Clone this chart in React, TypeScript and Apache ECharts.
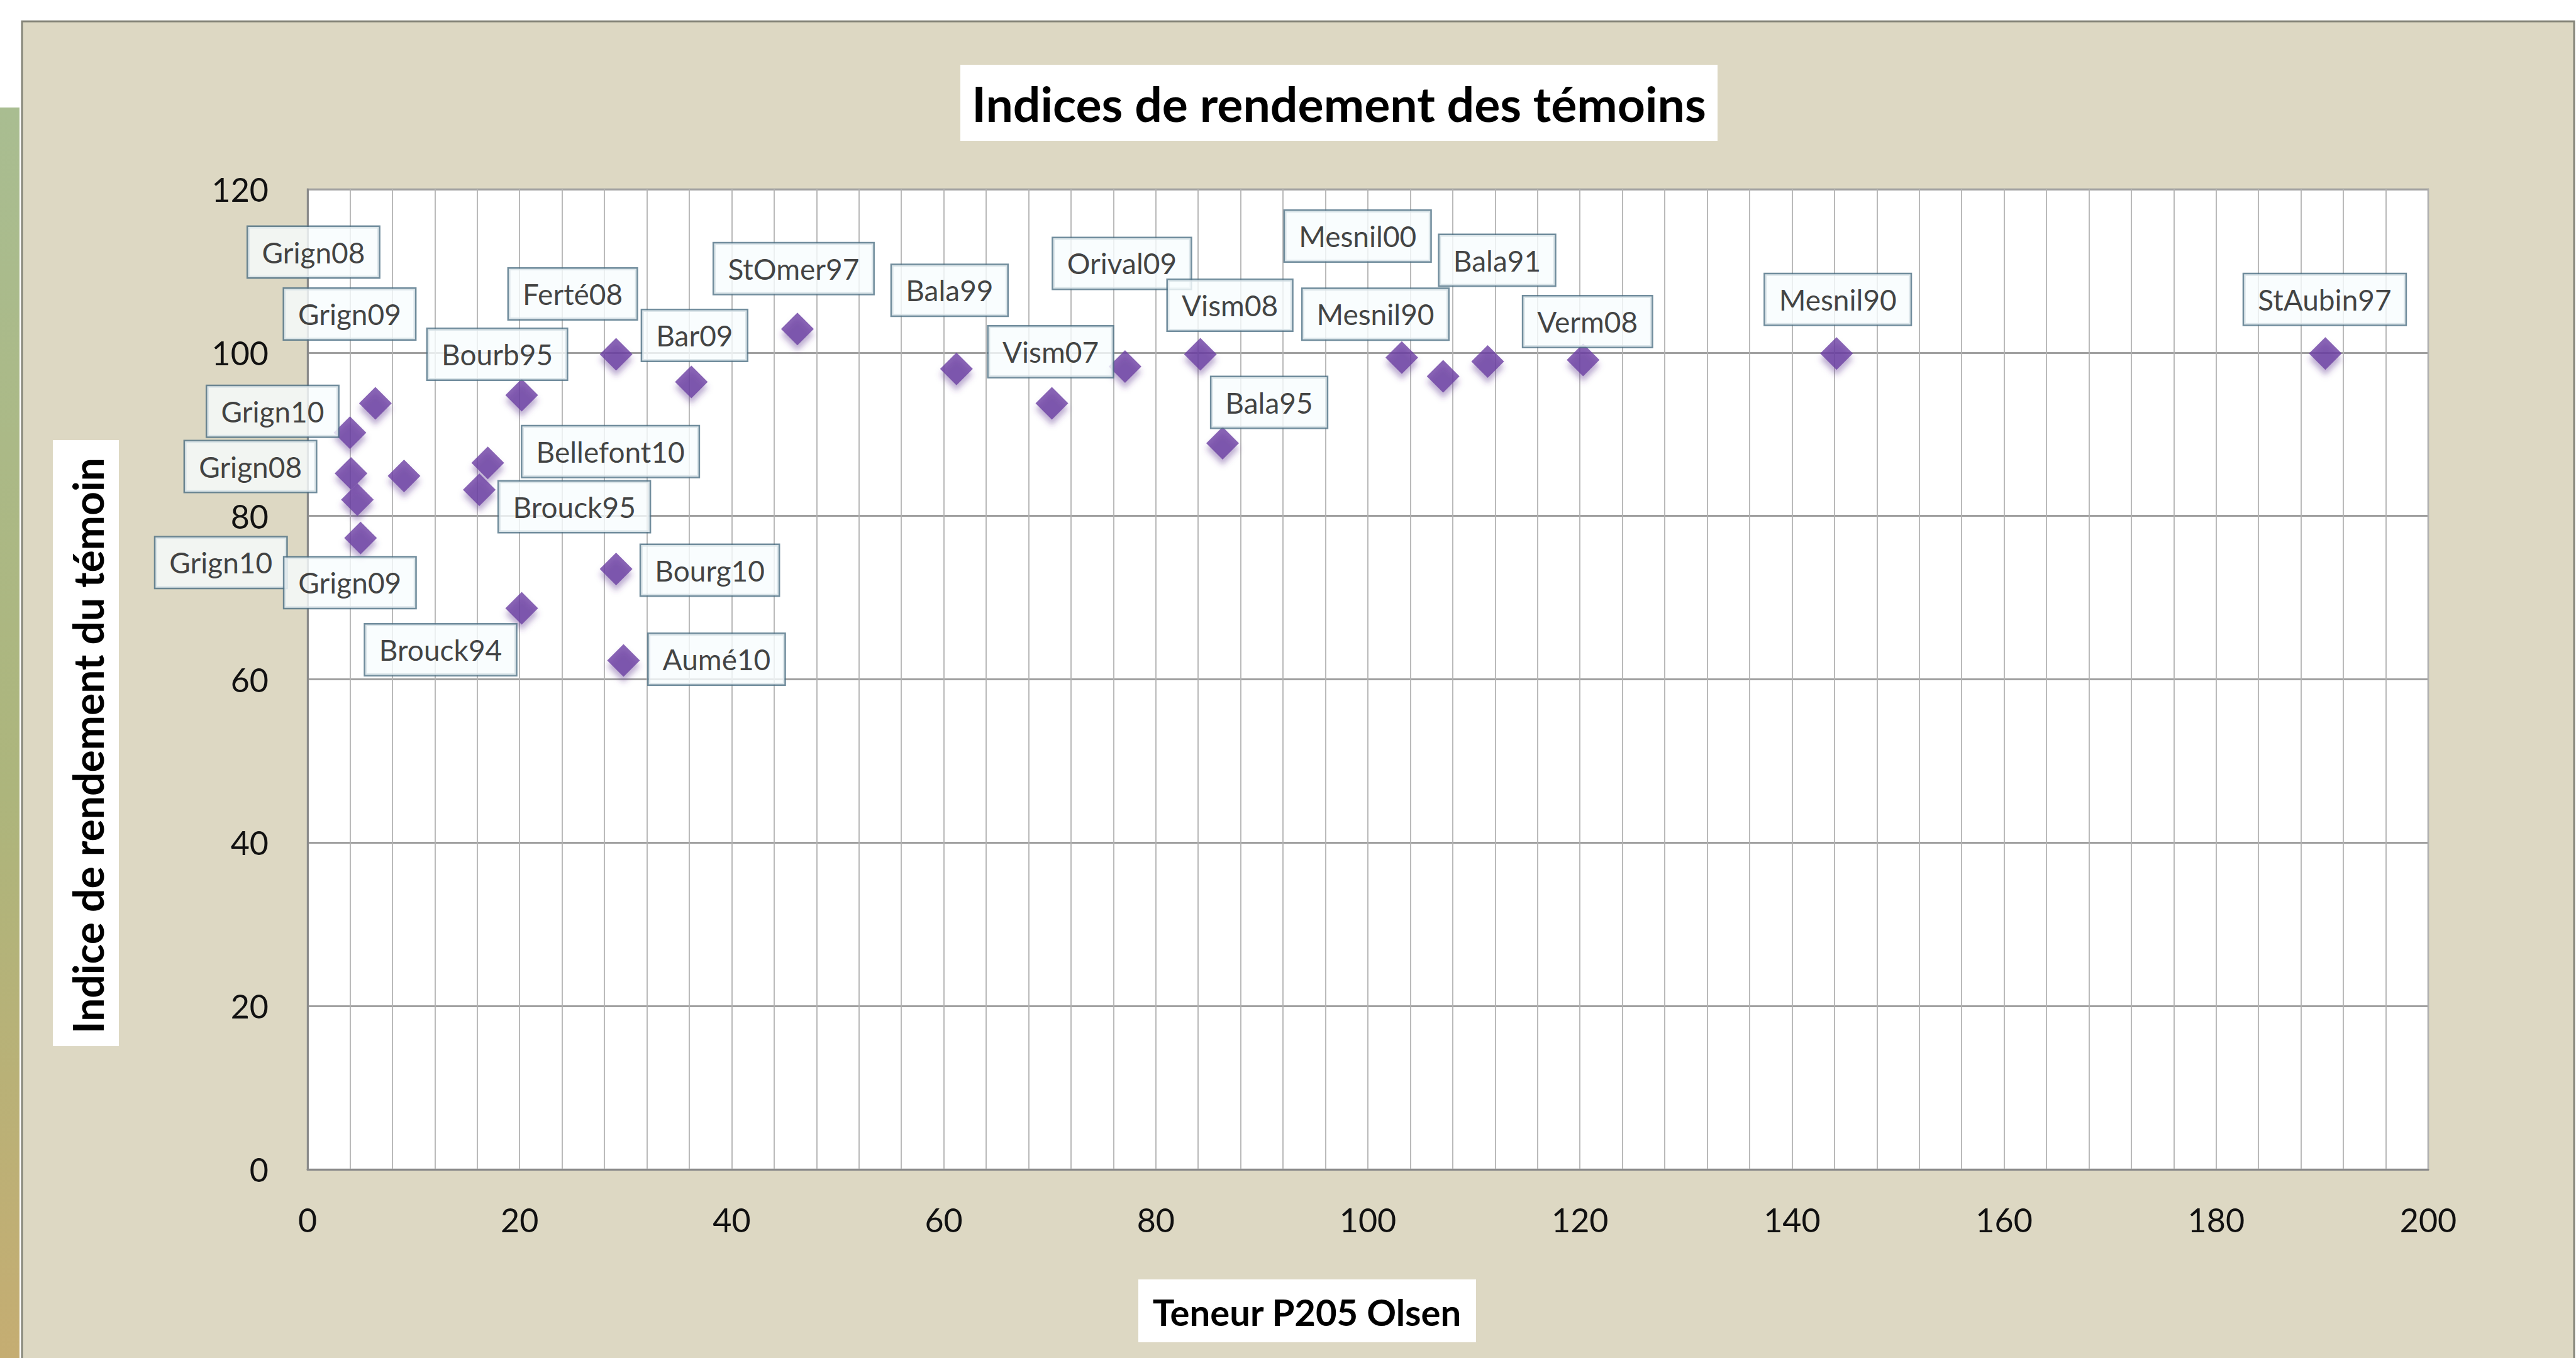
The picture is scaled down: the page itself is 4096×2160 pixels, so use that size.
import React, { useEffect, useRef } from "react";
import * as echarts from "echarts";

// ---- data ----
const pointNames = [
  "Grign09", "Grign10", "Grign08", "Grign08", "Grign10", "Grign09",
  "Bellefont10", "Brouck95", "Bourb95", "Ferté08", "Bar09", "StOmer97",
  "Bourg10", "Brouck94", "Aumé10", "Bala99", "Vism07", "Orival09",
  "Vism08", "Bala95", "Mesnil90", "Mesnil00", "Bala91", "Verm08",
  "Mesnil90", "StAubin97",
];
const teneurP205 = [
  6.4, 4.0, 4.1, 9.1, 4.7, 5.0,
  17.0, 16.2, 20.2, 29.1, 36.2, 46.2,
  29.1, 20.2, 29.8, 61.2, 70.2, 77.1,
  84.2, 86.3, 103.2, 107.1, 111.3, 120.3,
  144.2, 190.3,
];
const indiceRendement = [
  93.8, 90.2, 85.2, 84.9, 82.0, 77.3,
  86.5, 83.2, 94.8, 99.8, 96.4, 102.9,
  73.5, 68.7, 62.3, 98.0, 93.8, 98.3,
  99.8, 88.9, 99.4, 97.1, 98.9, 99.1,
  99.9, 99.9,
];
// label displacement from its point (px), as manually placed in the original
const labelOffsets = [
  [-41, -142], [-123, -34], [-160, -11], [-144, -356], [-217, 100], [-17, 71],
  [195, -18], [151, 27], [-39, -65], [-69, -96], [5, -74], [-6, -96],
  [149, 2], [-129, 66], [148, -2], [-11, -125], [-2, -82], [-5, -164],
  [47, -78], [74, -65], [-42, -69], [-136, -223], [15, -161], [7, -61],
  [2, -86], [-1, -86],
];
const chartTitle = "Indices de rendement des témoins";
const xTitle = "Teneur P205 Olsen";
const yTitle = "Indice de rendement du témoin";
const xMin = 0, xMax = 200, xStep = 20;
const yMin = 0, yMax = 120, yStep = 20;

const FONT = "Lato, 'Liberation Sans', sans-serif";

export default function App() {
  const ref = useRef<HTMLDivElement>(null);
  useEffect(() => {
    if (!ref.current) return;
    const chart = echarts.init(ref.current, null, { renderer: "svg" });
    const W = 4096, H = 2160;
    const grid = { left: 489, top: 301, width: 3372, height: 1559 };

    const data = pointNames.map((n, i) => ({
      name: n,
      value: [teneurP205[i], indiceRendement[i]],
    }));

    chart.setOption({
      animation: false,
      backgroundColor: "#ffffff",
      textStyle: { fontFamily: FONT },
      grid: {
        ...grid,
        show: true,
        backgroundColor: "#ffffff",
        borderColor: "#9c9c9c",
        borderWidth: 2.5,
        z: 0,
      },
      xAxis: {
        type: "value",
        z: 1,
        min: xMin,
        max: xMax,
        interval: xStep,
        axisLine: { show: true, onZero: false, lineStyle: { color: "#8a8a8a", width: 3 } },
        axisTick: { show: false },
        axisLabel: { color: "#111", fontSize: 52, fontFamily: FONT, margin: 54 },
        splitLine: { show: true, lineStyle: { color: "#b3b3b3", width: 1.8 } },
        minorTick: { show: true, splitNumber: 5, length: 0, lineStyle: { width: 0 } },
        minorSplitLine: { show: true, lineStyle: { color: "#b3b3b3", width: 1.8 } },
      },
      yAxis: {
        type: "value",
        z: 1,
        min: yMin,
        max: yMax,
        interval: yStep,
        axisLine: { show: true, onZero: false, lineStyle: { color: "#8a8a8a", width: 3 } },
        axisTick: { show: false },
        axisLabel: { color: "#111", fontSize: 52, fontFamily: FONT, margin: 62 },
        splitLine: { show: true, lineStyle: { color: "#a0a0a0", width: 2.8 } },
      },
      graphic: [
        {
          type: "rect",
          z: -100,
          silent: true,
          shape: { x: 0, y: 171, width: 31, height: H - 171 },
          style: {
            fill: new echarts.graphic.LinearGradient(0, 0, 0, 1, [
              { offset: 0, color: "#a9bd91" },
              { offset: 0.55, color: "#adb57c" },
              { offset: 1, color: "#c5ad72" },
            ]),
          },
        },
        {
          type: "rect",
          z: -99,
          silent: true,
          shape: { x: 35, y: 34, width: W - 38, height: H },
          style: { fill: "#ddd8c3", stroke: "#858579", lineWidth: 3 },
        },
        {
          type: "rect",
          z: 50,
          silent: true,
          shape: { x: 1527, y: 103, width: 1204, height: 121 },
          style: { fill: "#ffffff" },
        },
        {
          type: "text",
          z: 51,
          x: 2129,
          y: 164,
          style: {
            text: chartTitle,
            fill: "#000",
            font: `bold 77px ${FONT}`,
            textAlign: "center",
            textVerticalAlign: "middle",
          },
        },
        {
          type: "rect",
          z: 50,
          silent: true,
          shape: { x: 1810, y: 2035, width: 537, height: 100 },
          style: { fill: "#ffffff" },
        },
        {
          type: "text",
          z: 51,
          x: 2078,
          y: 2086,
          style: {
            text: xTitle,
            fill: "#000",
            font: `bold 58px ${FONT}`,
            textAlign: "center",
            textVerticalAlign: "middle",
          },
        },
        {
          type: "rect",
          z: 50,
          silent: true,
          shape: { x: 84, y: 700, width: 105, height: 964 },
          style: { fill: "#ffffff" },
        },
        {
          type: "text",
          z: 51,
          x: 139,
          y: 1186,
          rotation: Math.PI / 2,
          style: {
            text: yTitle,
            fill: "#000",
            font: `bold 66px ${FONT}`,
            textAlign: "center",
            textVerticalAlign: "middle",
          },
        },
      ],
      series: [
        {
          type: "scatter",
          symbol: "diamond",
          symbolSize: 52,
          z: 5,
          itemStyle: {
            color: "#6c3fa2",
            shadowBlur: 10,
            shadowColor: "rgba(90,50,140,0.5)",
            shadowOffsetY: 9,
          },
          label: {
            show: true,
            position: "inside",
            formatter: "{b}",
            color: "#111",
            fontFamily: FONT,
            fontSize: 46,
            lineHeight: 48,
            backgroundColor: "#f8fcfe",
            borderColor: "#4d7184",
            borderWidth: 2.5,
            padding: [16, 22, 16, 22],
          },
          labelLayout: (params: any) => {
            const o = labelOffsets[params.dataIndex] || [0, 0];
            return { dx: o[0], dy: o[1], hideOverlap: false };
          },
          data,
        },
      ],
    });
    return () => chart.dispose();
  }, []);
  return (
    <div
      ref={ref}
      style={{ position: "fixed", left: 0, top: 0, width: 4096, height: 2160 }}
    />
  );
}
